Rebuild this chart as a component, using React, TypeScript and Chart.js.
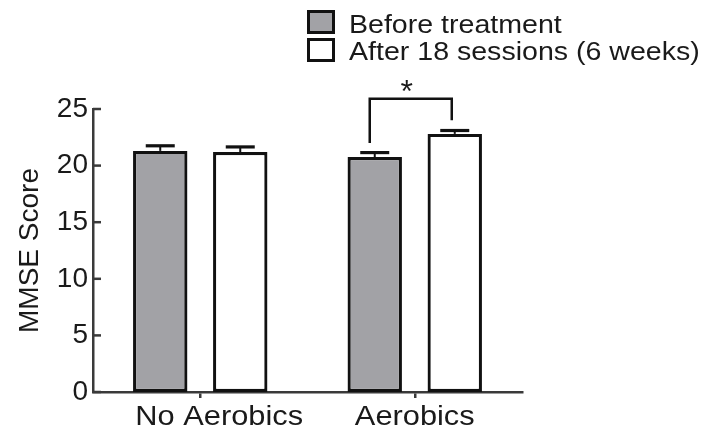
import React, { useEffect, useRef } from 'react';
import { Chart, registerables } from 'chart.js';

Chart.register(...registerables);

const categories = ['No Aerobics', 'Aerobics'];
const seriesLabels = ['Before treatment', 'After 18 sessions (6 weeks)'];
const beforeValues = [21.3, 20.75];
const afterValues = [21.2, 22.8];
const beforeErrors = [0.45, 0.4];
const afterErrors = [0.45, 0.3];
const yTicks = [0, 5, 10, 15, 20, 25];
const yTitle = 'MMSE Score';
const sigLabel = '*';

const FONT = "'Liberation Sans', Arial, Helvetica, sans-serif";
const INK = '#1a1a1a';
const AXIS = '#3a3a3a';
const GRAY = '#a2a2a6';

const errorsByDataset = [beforeErrors, afterErrors];
// horizontal nudge of category labels relative to their tick (as in the figure)
const labelNudge = [19, 0];

function stretchedText(
  ctx: CanvasRenderingContext2D,
  text: string,
  x: number,
  y: number,
  size: number,
  sx: number,
  align: 'left' | 'center' = 'left'
) {
  ctx.save();
  ctx.font = `${size}px ${FONT}`;
  const w = ctx.measureText(text).width * sx;
  const x0 = align === 'center' ? x - w / 2 : x;
  ctx.translate(x0, y);
  ctx.scale(sx, 1);
  ctx.fillStyle = INK;
  ctx.textAlign = 'left';
  ctx.textBaseline = 'alphabetic';
  ctx.fillText(text, 0, 0);
  ctx.restore();
}

const decorPlugin = {
  id: 'decor',
  afterDatasetsDraw(chart: any) {
    const ctx: CanvasRenderingContext2D = chart.ctx;
    const yScale = chart.scales.y;
    const xScale = chart.scales.x;
    const area = chart.chartArea;

    // error bars (upper only)
    chart.data.datasets.forEach((ds: any, i: number) => {
      const meta = chart.getDatasetMeta(i);
      meta.data.forEach((bar: any, j: number) => {
        const v = ds.data[j];
        const e = errorsByDataset[i][j];
        const yTop = yScale.getPixelForValue(v + e);
        const yBar = bar.y;
        ctx.save();
        ctx.strokeStyle = '#111';
        ctx.lineWidth = 2;
        ctx.beginPath();
        ctx.moveTo(bar.x, yBar);
        ctx.lineTo(bar.x, yTop);
        ctx.stroke();
        ctx.lineWidth = 3.2;
        ctx.beginPath();
        ctx.moveTo(bar.x - 14.5, yTop);
        ctx.lineTo(bar.x + 14.5, yTop);
        ctx.stroke();
        ctx.restore();
      });
    });

    // inward y ticks
    ctx.save();
    ctx.strokeStyle = AXIS;
    ctx.lineWidth = 2.5;
    yTicks.forEach((v) => {
      const y = yScale.getPixelForValue(v);
      ctx.beginPath();
      ctx.moveTo(area.left, y);
      ctx.lineTo(area.left + 8, y);
      ctx.stroke();
    });
    ctx.restore();

    // category labels
    categories.forEach((c, i) => {
      const x = xScale.getPixelForTick(i) + labelNudge[i];
      stretchedText(ctx, c, x, area.bottom + 33, 28, 1.1, 'center');
    });

    // significance bracket between Aerobics bars
    const m0 = chart.getDatasetMeta(0).data[1];
    const m1 = chart.getDatasetMeta(1).data[1];
    const xl = m0.x - 5;
    const xr = m1.x - 3;
    const yTopB = yScale.getPixelForValue(25.9);
    const yl = yScale.getPixelForValue(22.0);
    const yr = yScale.getPixelForValue(24.0);
    ctx.save();
    ctx.strokeStyle = '#111';
    ctx.lineWidth = 2.5;
    ctx.beginPath();
    ctx.moveTo(xl, yl);
    ctx.lineTo(xl, yTopB);
    ctx.lineTo(xr, yTopB);
    ctx.lineTo(xr, yr);
    ctx.stroke();
    ctx.font = `32px ${FONT}`;
    ctx.fillStyle = INK;
    ctx.textAlign = 'center';
    ctx.textBaseline = 'alphabetic';
    ctx.fillText(sigLabel, (xl + xr) / 2 - 4, yTopB + 3);
    ctx.restore();

    // legend
    const fills = [GRAY, '#ffffff'];
    const boxY = [10, 38];
    const baseY = [33, 59.5];
    seriesLabels.forEach((lab, i) => {
      ctx.save();
      ctx.fillStyle = '#111';
      ctx.fillRect(307, boxY[i], 28, 24);
      ctx.fillStyle = fills[i];
      ctx.fillRect(310, boxY[i] + 3, 22, 18);
      ctx.restore();
      stretchedText(ctx, lab, 349, baseY[i], 25.5, 1.12);
    });
  },
};

export default function App() {
  const ref = useRef<HTMLCanvasElement | null>(null);

  useEffect(() => {
    if (!ref.current) return;
    const chart = new Chart(ref.current, {
      type: 'bar',
      data: {
        labels: categories,
        datasets: [
          {
            label: seriesLabels[0],
            data: beforeValues,
            backgroundColor: GRAY,
            borderColor: '#111',
            borderWidth: 3.2,
            borderSkipped: false,
            barPercentage: 0.68,
            categoryPercentage: 0.746,
          },
          {
            label: seriesLabels[1],
            data: afterValues,
            backgroundColor: '#ffffff',
            borderColor: '#111',
            borderWidth: 3.2,
            borderSkipped: false,
            barPercentage: 0.68,
            categoryPercentage: 0.746,
          },
        ],
      },
      options: {
        responsive: false,
        animation: false,
        layout: { padding: { top: 109, right: 189, left: 0, bottom: 0 } },
        plugins: {
          legend: { display: false },
          tooltip: { enabled: false },
        },
        scales: {
          x: {
            grid: {
              display: true,
              drawOnChartArea: false,
              drawTicks: true,
              tickLength: 6,
              offset: false,
              color: AXIS,
              lineWidth: 2.5,
            },
            border: { display: true, color: AXIS, width: 2.5 },
            ticks: { display: false },
            afterFit: (s: any) => {
              s.height = 47;
            },
          },
          y: {
            min: 0,
            max: 25,
            grid: { display: false, drawTicks: false },
            border: { display: true, color: AXIS, width: 2.5 },
            ticks: {
              padding: 5,
              color: INK,
              font: { family: FONT, size: 28 },
            },
            afterBuildTicks: (s: any) => {
              s.ticks = yTicks.map((v) => ({ value: v }));
            },
            title: {
              display: true,
              text: yTitle,
              color: INK,
              font: { family: FONT, size: 28, weight: 'normal' },
              padding: { top: 13, bottom: 0 },
            },
            afterFit: (s: any) => {
              s.width = 93;
            },
          },
        },
      },
      plugins: [decorPlugin],
    });
    return () => chart.destroy();
  }, []);

  return (
    <div style={{ position: 'fixed', left: 0, top: 0, width: 711, height: 439, background: '#fff' }}>
      <canvas ref={ref} width={711} height={439} style={{ display: 'block', width: 711, height: 439 }} />
    </div>
  );
}
